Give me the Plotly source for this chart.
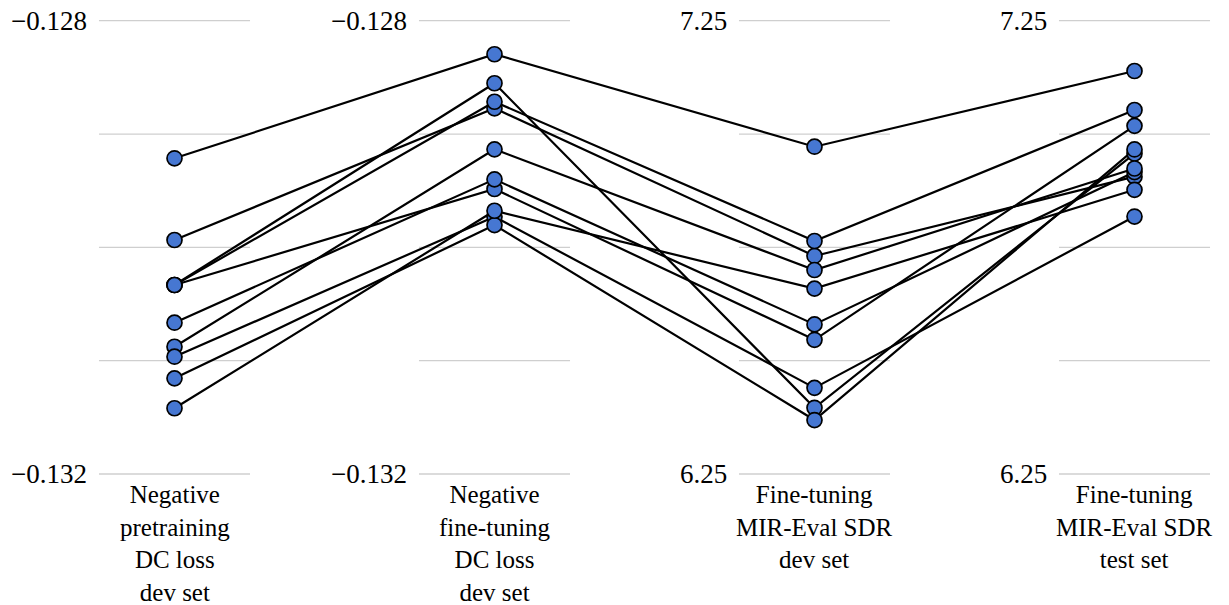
import plotly.graph_objects as go

# ---- data ----
axis_titles = [
    "Negative<br>pretraining<br>DC loss<br>dev set",
    "Negative<br>fine-tuning<br>DC loss<br>dev set",
    "Fine-tuning<br>MIR-Eval SDR<br>dev set",
    "Fine-tuning<br>MIR-Eval SDR<br>test set",
]
axis_min = [-0.132, -0.132, 6.25, 6.25]
axis_max = [-0.128, -0.128, 7.25, 7.25]
tick_bottom = ["\u22120.132", "\u22120.132", "6.25", "6.25"]
tick_top = ["\u22120.128", "\u22120.128", "7.25", "7.25"]

pretrain_dc = [-0.129214, -0.129935, -0.130332, -0.130332, -0.130332,
               -0.130665, -0.130877, -0.130965, -0.131156, -0.131420]
finetune_dc = [-0.128296, -0.128773, -0.128715, -0.128552, -0.129485,
               -0.129400, -0.129135, -0.129730, -0.129803, -0.129677]
sdr_dev = [6.972, 6.731, 6.764, 6.396, 6.546,
           6.580, 6.700, 6.440, 6.369, 6.659]
sdr_test = [7.139, 6.906, 7.053, 6.957, 7.018,
            6.916, 6.924, 6.818, 6.966, 6.877]

columns = [pretrain_dc, finetune_dc, sdr_dev, sdr_test]
n_lines = len(pretrain_dc)
xs = list(range(len(columns)))


def norm(v, i):
    return (v - axis_min[i]) / (axis_max[i] - axis_min[i])


fig = go.Figure()

# gridlines (short horizontal segments around each axis)
half = 0.236
for i in xs:
    for f in [0, 0.25, 0.5, 0.75, 1.0]:
        fig.add_shape(type="line", x0=i - half, x1=i + half, y0=f, y1=f,
                      xref="x", yref="y", layer="below",
                      line=dict(color="#cfcfcf", width=1.3))

# polylines
for k in range(n_lines):
    ys = [norm(columns[i][k], i) for i in xs]
    fig.add_trace(go.Scatter(x=xs, y=ys, mode="lines",
                             line=dict(color="black", width=2.2),
                             hoverinfo="skip", showlegend=False))

# markers on top
mx, my = [], []
for k in range(n_lines):
    for i in xs:
        mx.append(i)
        my.append(norm(columns[i][k], i))
fig.add_trace(go.Scatter(x=mx, y=my, mode="markers",
                         marker=dict(size=15, color="#4677D2",
                                     line=dict(color="black", width=1.7)),
                         showlegend=False))

font_family = "Liberation Serif, DejaVu Serif, serif"
label_off = 0.267
for i in xs:
    fig.add_annotation(x=i - label_off, y=1, text=tick_top[i], showarrow=False,
                       xanchor="right", yanchor="middle",
                       font=dict(size=27, color="black", family=font_family))
    fig.add_annotation(x=i - label_off, y=0, text=tick_bottom[i], showarrow=False,
                       xanchor="right", yanchor="middle",
                       font=dict(size=27, color="black", family=font_family))
    fig.add_annotation(x=i, y=-0.012, text=axis_titles[i], showarrow=False,
                       xanchor="center", yanchor="top", align="center",
                       font=dict(size=25, color="black", family=font_family))

fig.update_layout(
    width=1229, height=605,
    margin=dict(l=0, r=0, t=0, b=0),
    paper_bgcolor="white", plot_bgcolor="white",
    xaxis=dict(range=[-0.5453, 3.2953], visible=False, fixedrange=True),
    yaxis=dict(range=[-0.28899, 1.04567], visible=False, fixedrange=True),
    showlegend=False,
)

fig.write_html("out.html")
